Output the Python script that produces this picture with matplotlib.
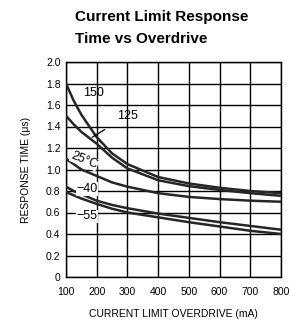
import numpy as np
import matplotlib
matplotlib.use('Agg')
import matplotlib.pyplot as plt

plt.rcParams['font.family'] = ['Liberation Sans', 'DejaVu Sans']

# 数据：各温度曲线（过驱动电流 mA -> 响应时间 μs）
overdrive = [100, 125, 150, 200, 250, 300, 400, 500, 600, 700, 800]
t_150 = [1.80, 1.64, 1.51, 1.30, 1.15, 1.05, 0.93, 0.87, 0.83, 0.80, 0.78]
t_125 = [1.50, 1.42, 1.35, 1.24, 1.11, 1.01, 0.90, 0.845, 0.81, 0.78, 0.755]
t_25 = [1.10, 1.05, 1.00, 0.94, 0.88, 0.84, 0.78, 0.745, 0.725, 0.71, 0.70]
t_m40 = [0.84, 0.80, 0.77, 0.71, 0.67, 0.64, 0.59, 0.55, 0.51, 0.475, 0.44]
t_m55 = [0.79, 0.76, 0.73, 0.68, 0.635, 0.60, 0.555, 0.51, 0.47, 0.43, 0.40]

x_ticks = [100, 200, 300, 400, 500, 600, 700, 800]
y_ticks = [0, 0.2, 0.4, 0.6, 0.8, 1.0, 1.2, 1.4, 1.6, 1.8, 2.0]
y_ticklabels = ['0', '0.2', '0.4', '0.6', '0.8', '1.0', '1.2', '1.4', '1.6', '1.8', '2.0']

fig = plt.figure(figsize=(2.91, 3.26), dpi=100)
ax = fig.add_axes([66 / 291, 1 - 277 / 326, 215 / 291, 215 / 326])

curve_color = '#262626'
for ys in [t_150, t_125, t_25, t_m40, t_m55]:
    ax.plot(overdrive, ys, color=curve_color, lw=1.8, zorder=3)

ax.set_xlim(100, 800)
ax.set_ylim(0, 2.0)
ax.set_xticks(x_ticks)
ax.set_yticks(y_ticks)
ax.set_yticklabels(y_ticklabels)
ax.grid(True, color='black', lw=1.0)
for s in ax.spines.values():
    s.set_linewidth(1.0)
ax.tick_params(axis='y', length=0, pad=4, labelsize=7.5)
ax.tick_params(axis='x', length=0, pad=7, labelsize=7.5)

# 曲线标注
lab = dict(fontsize=9, ha='center', va='center', zorder=4)
ax.text(190, 1.71, '150', **lab)
ax.annotate('125', xy=(185, 1.30), xytext=(300, 1.50),
            arrowprops=dict(arrowstyle='-', color='black', lw=0.9,
                            shrinkA=8, shrinkB=0), **lab)
ax.text(160, 1.085, '25°C', rotation=-22,
        bbox=dict(facecolor='white', edgecolor='none', pad=0.2), **lab)
ax.text(168, 0.82, '−40', bbox=dict(facecolor='white', edgecolor='none', pad=0.5), **lab)
ax.text(168, 0.565, '−55', bbox=dict(facecolor='white', edgecolor='none', pad=0.5), **lab)

ax.set_xlabel('CURRENT LIMIT OVERDRIVE (mA)', fontsize=7.5, labelpad=9)
ax.set_ylabel('RESPONSE TIME (μs)', fontsize=7.5, labelpad=11)

fig.text(75 / 291, 1 - 21 / 326, 'Current Limit Response', fontsize=11,
         fontweight='bold', ha='left', va='baseline')
fig.text(75 / 291, 1 - 43 / 326, 'Time vs Overdrive', fontsize=11,
         fontweight='bold', ha='left', va='baseline')

fig.savefig('out.png', dpi=100)
